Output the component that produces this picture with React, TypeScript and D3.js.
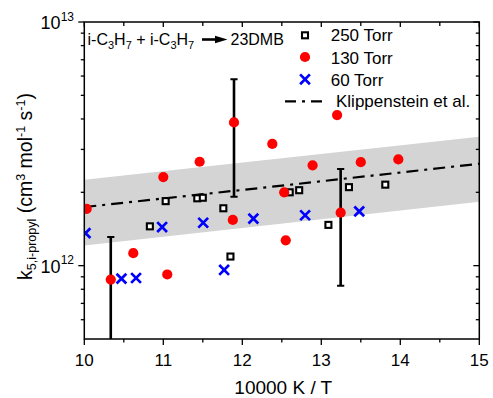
import React from 'react';
import * as d3 from 'd3';

// ---- data ----
const p250X = [10.83, 11.03, 11.43, 11.5, 11.76, 11.85, 12.6, 12.72, 13.09, 13.35, 13.81];
const p250K = [1.45e12, 1.84e12, 1.89e12, 1.9e12, 1.72e12, 1.09e12, 2.0e12, 2.04e12, 1.47e12, 2.1e12, 2.15e12];

const p130X = [10.03, 10.335, 10.62, 11.05, 11.0, 11.46, 11.895, 11.88, 12.38, 12.53, 12.55, 12.89, 13.2, 13.245, 13.5, 13.975];
const p130K = [1.71e12, 8.77e11, 1.125e12, 9.2e11, 2.31e12, 2.67e12, 3.87e12, 1.54e12, 3.16e12, 2.0e12, 1.27e12, 2.58e12, 4.15e12, 1.65e12, 2.66e12, 2.73e12];

const p60X = [10.015, 10.47, 10.655, 10.985, 11.505, 11.77, 12.14, 12.795, 13.48];
const p60K = [1.36e12, 8.85e11, 8.9e11, 1.44e12, 1.5e12, 9.6e11, 1.56e12, 1.61e12, 1.67e12];

const errX = [10.335, 11.895, 13.245];
const errLow = [1e11, 1.92e12, 8.28e11];
const errHigh = [1.31e12, 5.82e12, 2.49e12];

const klipX = [10, 12.5, 15];
const klipK = [1.74e12, 2.13e12, 2.62e12];

const bandX = [10, 15];
const bandLow = [1.21e12, 1.83e12];
const bandHigh = [2.25e12, 3.38e12];

const xMajor = [10, 11, 12, 13, 14, 15];
const xMinor = [10.5, 11.5, 12.5, 13.5, 14.5];
const yMajor = [1e12, 1e13];
const yMajorExp = ['12', '13'];
const yMinor = [6e11, 7e11, 8e11, 9e11, 2e12, 3e12, 4e12, 5e12, 6e12, 7e12, 8e12, 9e12];

const legendLabels = ['250 Torr', '130 Torr', '60 Torr', 'Klippenstein et al.'];

const W = 493;
const H = 398;
const L = 84.3, R = 479.3, T = 22, B = 339;
const FONT = '"Liberation Sans", Arial, Helvetica, sans-serif';

export default function App() {
  const x = d3.scaleLinear().domain([10, 15]).range([L, R]);
  const y = d3.scaleLog().domain([5e11, 1e13]).range([B, T]);

  const bandArea = d3
    .area<number>()
    .x((_, i) => x(bandX[i]))
    .y0((_, i) => y(bandLow[i]))
    .y1((_, i) => y(bandHigh[i]));
  const klipLine = d3
    .line<number>()
    .x((_, i) => x(klipX[i]))
    .y((d) => y(d));

  const sq = 6;
  const xs = 4.9;

  return (
    <svg
      width={W}
      height={H}
      style={{ position: 'absolute', left: 0, top: 0, background: '#fff' }}
      fontFamily={FONT}
    >
      <defs>
        <clipPath id="plotClip">
          <rect x={L} y={T} width={R - L} height={B - T} />
        </clipPath>
      </defs>

      <g clipPath="url(#plotClip)">
        <path d={bandArea(bandLow) || ''} fill="#d4d4d4" />
        <path
          d={klipLine(klipK) || ''}
          fill="none"
          stroke="#000"
          strokeWidth={2.2}
          strokeDasharray="12,6,3,6"
        />
        {p250X.map((v, i) => (
          <rect
            key={'s' + i}
            x={x(v) - sq / 2}
            y={y(p250K[i]) - sq / 2}
            width={sq}
            height={sq}
            fill="#fff"
            stroke="#000"
            strokeWidth={2.1}
          />
        ))}
        {p60X.map((v, i) => {
          const cx = x(v);
          const cy = y(p60K[i]);
          return (
            <path
              key={'x' + i}
              d={`M${cx - xs},${cy - xs}L${cx + xs},${cy + xs}M${cx - xs},${cy + xs}L${cx + xs},${cy - xs}`}
              stroke="#0000ff"
              strokeWidth={2.7}
              fill="none"
            />
          );
        })}
        {errX.map((v, i) => {
          const cx = x(v);
          return (
            <g key={'e' + i} stroke="#000">
              <line x1={cx} x2={cx} y1={y(errLow[i])} y2={y(errHigh[i])} strokeWidth={2.6} />
              <line x1={cx - 3.6} x2={cx + 3.6} y1={y(errHigh[i])} y2={y(errHigh[i])} strokeWidth={2} />
              <line x1={cx - 3.6} x2={cx + 3.6} y1={y(errLow[i])} y2={y(errLow[i])} strokeWidth={2} />
            </g>
          );
        })}
        {p130X.map((v, i) => (
          <circle key={'c' + i} cx={x(v)} cy={y(p130K[i])} r={5.1} fill="#f00" />
        ))}
      </g>

      {/* frame */}
      <rect x={L} y={T} width={R - L} height={B - T} fill="none" stroke="#000" strokeWidth={1.5} />

      {/* x ticks */}
      {xMajor.map((v) => (
        <g key={'xm' + v} stroke="#000" strokeWidth={1.3}>
          <line x1={x(v)} x2={x(v)} y1={B} y2={B + 6} />
          <line x1={x(v)} x2={x(v)} y1={T} y2={T + 5} />
        </g>
      ))}
      {xMinor.map((v) => (
        <g key={'xn' + v} stroke="#000" strokeWidth={1.3}>
          <line x1={x(v)} x2={x(v)} y1={B} y2={B + 3.5} />
          <line x1={x(v)} x2={x(v)} y1={T} y2={T + 4} />
        </g>
      ))}
      {xMajor.map((v) => (
        <text key={'xl' + v} x={x(v)} y={B + 27} textAnchor="middle" fontSize={17}>
          {v}
        </text>
      ))}

      {/* y ticks */}
      {yMajor.map((v) => (
        <g key={'ym' + v} stroke="#000" strokeWidth={1.3}>
          <line x1={L - 6} x2={L} y1={y(v)} y2={y(v)} />
          <line x1={R - 6} x2={R} y1={y(v)} y2={y(v)} />
        </g>
      ))}
      {yMinor.map((v) => (
        <g key={'yn' + v} stroke="#000" strokeWidth={1.3}>
          <line x1={L - 3.5} x2={L} y1={y(v)} y2={y(v)} />
          <line x1={R - 3.5} x2={R} y1={y(v)} y2={y(v)} />
        </g>
      ))}
      {yMajor.map((v, i) => (
        <text key={'yl' + v} x={74} y={y(v) + 7.3} textAnchor="end" fontSize={18}>
          10
          <tspan dy={-8.5} fontSize={12}>
            {yMajorExp[i]}
          </tspan>
        </text>
      ))}

      {/* axis titles */}
      <text x={(L + R) / 2 + 1.5} y={394} textAnchor="middle" fontSize={19}>
        10000 K / T
      </text>
      <text transform="translate(32,186.5) rotate(-90)" textAnchor="middle" fontSize={19.5}>
        k
        <tspan dy={4} fontSize={12.5}>5,i-propyl</tspan>
        <tspan dy={-4}> (cm</tspan>
        <tspan dy={-7} fontSize={12.5}>3</tspan>
        <tspan dy={7}> mol</tspan>
        <tspan dy={-7} fontSize={12.5}>-1</tspan>
        <tspan dy={7}> s</tspan>
        <tspan dy={-7} fontSize={12.5}>-1</tspan>
        <tspan dy={7}>)</tspan>
      </text>

      {/* annotation */}
      <text x={87.5} y={45} fontSize={16}>
        i-C
        <tspan dy={4} fontSize={11}>3</tspan>
        <tspan dy={-4}>H</tspan>
        <tspan dy={4} fontSize={11}>7</tspan>
        <tspan dy={-4}> + i-C</tspan>
        <tspan dy={4} fontSize={11}>3</tspan>
        <tspan dy={-4}>H</tspan>
        <tspan dy={4} fontSize={11}>7</tspan>
      </text>
      <line x1={202} x2={217} y1={39.5} y2={39.5} stroke="#000" strokeWidth={2.6} />
      <path d="M215,35.8L227.5,39.5L215,43.2Z" fill="#000" />
      <text x={230.5} y={45} fontSize={16}>
        23DMB
      </text>

      {/* legend */}
      <rect x={305 - sq / 2} y={35.3 - sq / 2} width={sq} height={sq} fill="#fff" stroke="#000" strokeWidth={2.1} />
      <circle cx={305} cy={57} r={5.1} fill="#f00" />
      <path
        d={`M${305 - xs},${79.3 - xs}L${305 + xs},${79.3 + xs}M${305 - xs},${79.3 + xs}L${305 + xs},${79.3 - xs}`}
        stroke="#0000ff"
        strokeWidth={2.7}
      />
      <line x1={285} x2={326} y1={101.3} y2={101.3} stroke="#000" strokeWidth={2.2} strokeDasharray="11,6,3,6" />
      <text x={330.7} y={41.3} fontSize={17}>{legendLabels[0]}</text>
      <text x={330.7} y={63.7} fontSize={17}>{legendLabels[1]}</text>
      <text x={330.7} y={86} fontSize={17}>{legendLabels[2]}</text>
      <text x={336} y={107} fontSize={17}>{legendLabels[3]}</text>
    </svg>
  );
}
